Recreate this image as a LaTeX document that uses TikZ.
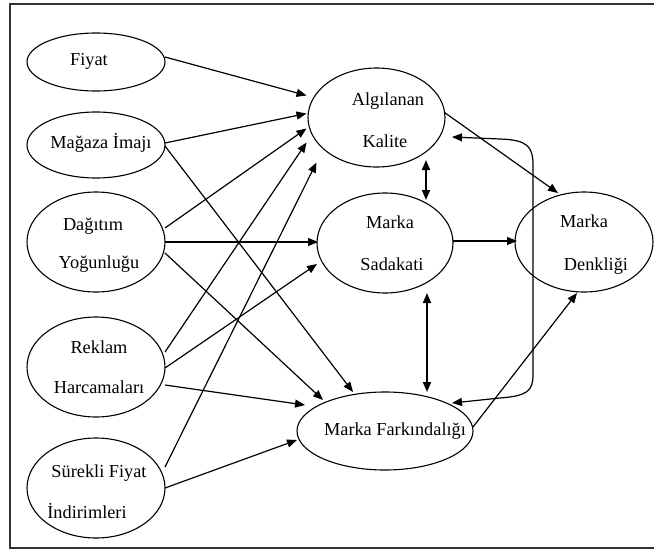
\documentclass[tikz,border=0pt]{standalone}
\usepackage{fontspec}
\setmainfont{Liberation Serif}
\usetikzlibrary{arrows.meta,calc,shapes.geometric}
\begin{document}
\begin{tikzpicture}[x=1pt,y=-1pt,
  oval/.style={draw, ellipse, line width=1.1pt, inner sep=0pt},
  lbl/.style={anchor=base, inner sep=0pt, font=\fontsize{18.3}{22}\selectfont},
  tip/.style={-{Triangle[length=10pt,width=8pt]}},
  link/.style={line width=1.2pt, tip},
  twoway/.style={line width=1.2pt, {Triangle[length=10pt,width=8pt]}-{Triangle[length=10pt,width=8pt]}},
]
\useasboundingbox (0,0) rectangle (654,549);
\clip (0,0) rectangle (654,549);

% outer frame
\draw[line width=1.4pt, black!80] (10,4) rectangle (680,548);

% determinants (left column)
\node[oval, minimum width=138pt, minimum height=58pt]  (F)  at (96,62)  {};
\node[oval, minimum width=138pt, minimum height=66pt]  (MI) at (96,145) {};
\node[oval, minimum width=138pt, minimum height=100pt] (DY) at (96,242) {};
\node[oval, minimum width=138pt, minimum height=100pt] (RH) at (96,367) {};
\node[oval, minimum width=138pt, minimum height=100pt] (SF) at (96,488) {};

% brand equity dimensions
\node[oval, minimum width=137pt, minimum height=99pt]  (AK) at (376.5,117.5) {};
\node[oval, minimum width=136pt, minimum height=100pt] (MS) at (385,243) {};
\node[oval, minimum width=176pt, minimum height=78pt]  (MF) at (385,431) {};
\node[oval, minimum width=138pt, minimum height=100pt] (MD) at (584,242) {};

% labels
\node[lbl] (tF)   at (89,65)   {Fiyat};
\node[lbl] (tMI)  at (101,148) {Mağaza İmajı};
\node[lbl] (tDY1) at (93,230)  {Dağıtım};
\node[lbl] (tDY2) at (99,268)  {Yoğunluğu};
\node[lbl] (tRH1) at (99,353)  {Reklam};
\node[lbl] (tRH2) at (99,393)  {Harcamaları};
\node[lbl] (tSF1) at (99,477)  {Sürekli Fiyat};
\node[lbl] (tSF2) at (87,518)  {İndirimleri};
\node[lbl] (tAK1) at (388,105) {Algılanan};
\node[lbl] (tAK2) at (385,147) {Kalite};
\node[lbl] (tMS1) at (390,228) {Marka};
\node[lbl] (tMS2) at (392,270) {Sadakati};
\node[lbl] (tMD1) at (584,227) {Marka};
\node[lbl] (tMD2) at (596,270) {Denkliği};
\node[lbl] (tMF)  at (395,435) {Marka Farkındalığı};

% paths into perceived quality
\draw[link] ($(F.center)+(69,-5)$)   -- ($(AK.center)+(-70,-22)$);
\draw[link] ($(MI.center)+(69,-2)$)  -- ($(AK.center)+(-70,-4)$);
\draw[link] ($(DY.center)+(69,-14)$) -- ($(AK.center)+(-70,11)$);
\draw[link] ($(RH.center)+(69,-15)$) -- ($(AK.center)+(-70,25)$);
\draw[link] ($(SF.center)+(69,-21)$) -- ($(AK.center)+(-60,45)$);

% paths into brand loyalty
\draw[link] ($(DY.center)+(69,0)$) -- ($(MS.center)+(-67,-1)$);
\draw[link] ($(RH.center)+(69,1)$) -- ($(MS.center)+(-68,21)$);

% paths into brand awareness
\draw[link] ($(MI.center)+(69,1)$)  -- ($(MF.center)+(-32,-39)$);
\draw[link] ($(DY.center)+(69,11)$) -- ($(MF.center)+(-62,-31)$);
\draw[link] ($(RH.center)+(69,18)$) -- ($(MF.center)+(-80,-26)$);
\draw[link] ($(SF.center)+(69,0)$)  -- ($(MF.center)+(-88,9)$);

% paths into brand equity
\draw[link] ($(MS.center)+(68,-2)$) -- ($(MD.center)+(-67,-1)$);
\draw[link] ($(AK.center)+(68,-5)$) -- ($(MD.center)+(-26,-49)$);
\draw[link] ($(MF.center)+(88,-4)$) -- ($(MD.center)+(-7,51)$);

% mutual relations between dimensions
\draw[twoway, line width=1.8pt] ($(AK.center)+(49.5,42.5)$) -- ($(MS.center)+(41,-43)$);
\draw[twoway, line width=1.8pt] ($(MS.center)+(42,50)$) -- ($(MF.center)+(42,-39)$);
\draw[twoway] ($(AK.center)+(75.5,19.5)$) -- (500,139)
  .. controls (527,140) and (533,146) .. (533,165) -- (533,375)
  .. controls (533,391) and (527,396) .. (500,398) -- ($(MF.center)+(67,-28)$);
\end{tikzpicture}
\end{document}
